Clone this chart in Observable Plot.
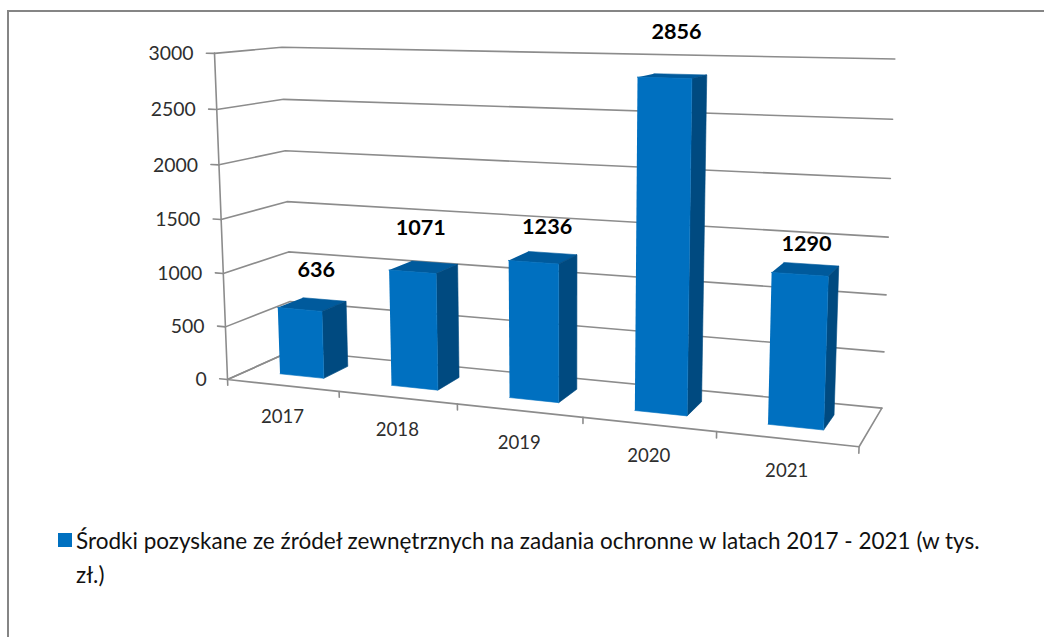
<!DOCTYPE html>
<html lang="pl"><head><meta charset="utf-8">
<script src="https://cdn.jsdelivr.net/npm/d3@7"></script>
<script src="https://cdn.jsdelivr.net/npm/@observablehq/plot@0.6"></script>
<style>
html,body{margin:0;background:#fff;overflow:hidden}
#page{position:relative;width:1044px;height:637px;overflow:hidden}
#frame{position:absolute;left:7px;top:10px;width:1100px;height:700px;border:2.5px solid #858585;box-sizing:border-box}
#chart{position:relative}
#chart svg{display:block;background:transparent}
#legend{position:relative;margin:4px 0 0 58px;display:flex;align-items:flex-start;font:22.5px/34px Lato,sans-serif;color:#111}
#legend i{display:block;width:14px;height:14px;background:#0070c0;margin:9px 4px 0 0;flex:none}
</style></head>
<body><div id="page"><div id="frame"></div><div id="chart"></div>
<div id="legend"><i></i><span id="ltext"></span></div></div>
<script>
const years = ["2017", "2018", "2019", "2020", "2021"];
const values = [636, 1071, 1236, 2856, 1290];
const axisTicks = [0, 500, 1000, 1500, 2000, 2500, 3000];
const axisMax = 3000;
const legendLines = ["Środki pozyskane ze źródeł zewnętrznych na zadania ochronne w latach 2017 - 2021 (w tys.", "zł.)"];

// Layout: perspective camera of the 3-D box (category u, depth d, value v; each 0..1)
const cam = [509.88311, 86.21451, -20.93857, 227.03085, 3.94525, -2.3387, -328.1497, 379.05883, -0.14169, 0.07563, -0.03696];
const project = (u, d, v) => {
  const w = cam[8]*u + cam[9]*d + cam[10]*v + 1;
  return {x: (cam[0]*u + cam[1]*d + cam[2]*v + cam[3]) / w, y: (cam[4]*u + cam[5]*d + cam[6]*v + cam[7]) / w};
};
const W = 1044, H = 520, n = years.length;
const halfBar = 0.04, dFront = 0.3, dBack = 0.7;
const labelNudge = [[4,-34],[-3,-39],[4,-30],[4,-44],[1,-25]];

const path = (id, pts) => pts.map(p => ({id, ...project(...p)}));
const grid = axisTicks.flatMap(t => path("g"+t, [[0,0,t/axisMax],[0,1,t/axisMax],[1,1,t/axisMax]]));
const frame = [
  ...path("axis", [[0,0,0],[0,0,1]]),
  ...path("floor", [[0,1,0],[0,0,0],[1,0,0],[1,1,0]]),
  ...axisTicks.flatMap(t => path("yt"+t, [[0,0,t/axisMax],[-0.0145,0,t/axisMax]])),
  ...d3.range(n+1).flatMap(i => path("xt"+i, [[i/n,0,0],[i/n,0,-0.018]]))
];
const face = (kind) => values.flatMap((val, i) => {
  const a = (i+.5)/n - halfBar, b = (i+.5)/n + halfBar, v = val/axisMax;
  const pts = {
    front: [[a,dFront,0],[b,dFront,0],[b,dFront,v],[a,dFront,v]],
    side:  [[b,dFront,0],[b,dBack,0],[b,dBack,v],[b,dFront,v]],
    top:   [[a,dFront,v],[b,dFront,v],[b,dBack,v],[a,dBack,v]]
  }[kind];
  return path(kind+i, pts);
});
const solid = (kind, color) => Plot.line(face(kind), {x:"x", y:"y", z:"id", fill:color, stroke:color, strokeWidth:0.6});
const tickLabels = axisTicks.map(t => ({t: String(t), ...project(-0.0145,0,t/axisMax)}));
const yearLabels = years.map((t,i) => ({t, ...project((i+.5)/n,0,0)}));
const valueLabels = values.map((val,i) => {
  const p = project((i+.5)/n,(dFront+dBack)/2,val/axisMax);
  return {t: String(val), x: p.x + labelNudge[i][0], y: p.y + labelNudge[i][1]};
});

const chart = Plot.plot({
  width: W, height: H, margin: 0,
  style: {background: "transparent"},
  x: {domain: [0, W], range: [0, W], axis: null},
  y: {domain: [0, H], range: [0, H], axis: null},
  marks: [
    Plot.line(grid, {x:"x", y:"y", z:"id", stroke:"#8c8c8c", strokeWidth:1.6}),
    Plot.line(frame, {x:"x", y:"y", z:"id", stroke:"#8c8c8c", strokeWidth:1.6}),
    solid("top", "#005a9c"),
    solid("side", "#004a80"),
    solid("front", "#0070c0"),
    Plot.text(tickLabels, {x:"x", y:"y", text:"t", dx:-13, dy:1, textAnchor:"end", fontFamily:"Lato", fontSize:19.4, fill:"#2e2e2e"}),
    Plot.text(yearLabels, {x:"x", y:"y", text:"t", dy:32, fontFamily:"Lato", fontSize:18.6, fill:"#2e2e2e"}),
    Plot.text(valueLabels, {x:"x", y:"y", text:"t", fontFamily:"Lato", fontWeight:"bold", fontSize:21.6, fill:"#000"})
  ]
});
document.getElementById("chart").append(chart);
const lt = document.getElementById("ltext");
legendLines.forEach((s,i) => { if (i) lt.append(document.createElement("br")); lt.append(s); });
</script></body></html>
